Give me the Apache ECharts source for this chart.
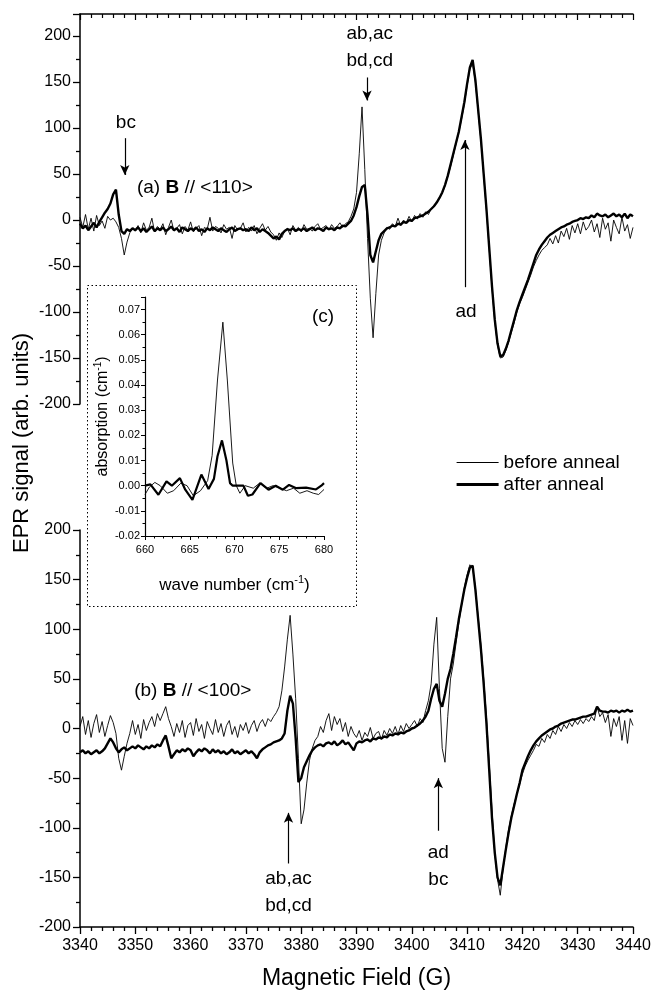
<!DOCTYPE html>
<html>
<head>
<meta charset="utf-8">
<script src="https://cdn.jsdelivr.net/npm/echarts@6/dist/echarts.min.js"></script>
<style>
html,body{margin:0;padding:0;background:#fff;}
#chart{width:655px;height:994px;}
</style>
</head>
<body>
<div id="chart"></div>
<script>
// ---------------- DATA ----------------
// Magnetic field sampling: 3340 G .. 3440 G every 0.5 G (201 samples)
const fieldStart = 3340;
const fieldStep = 0.5;

// (a) B // <110>, before anneal (thin)
const beforeA = [
  3, -8, 6, -10, 2, -12, 5, -6, -1, -9,
  4, 0, 2, -2, -8, -20, -38, -24, -14, -9,
  -12, -6, -14, -3, -11, -8, 2, -13, -7, -10,
  -4, -16, -8, 0, -12, -9, -5, -15, -7, -11,
  -2, -13, -9, -6, -17, -8, -10, 3, -12, -7,
  -9, -14, -5, -10, -8, -20, -6, -11, -9, -3,
  -13, -8, -12, -6, -15, -9, -4, -11, -7, -13,
  -16, -22, -14, -19, -12, -9, -16, -6, -11, -8,
  -13, -5, -10, -9, -12, -7, -4, -10, -8, -6,
  -11, -5, -9, -7, -3, -8, -4, -2, 4, 12,
  30, 72, 123, 55, -20, -85, -128, -80, -38, -22,
  -14, -8, -10, -4, -7, 2, -6, 0, -3, 4,
  -2, 5, 1, 7, 3, 9, 6, 12, 14, 19,
  24, 29, 37, 47, 58, 70, 83, 95, 110, 126,
  146, 164, 170, 150, 118, 86, 48, 10, -32, -74,
  -110, -136, -150, -149, -142, -133, -122, -112, -100, -91,
  -84, -76, -68, -60, -51, -44, -38, -33, -30, -27,
  -20, -26, -17, -25, -12, -18, -9, -21, -6, -14,
  -4, -15, -2, -11, -7, 0, -13, -4, -19, 2,
  -10, -3, -23, 0, -8, -15, 3, -12, -5, -20,
  -8
];
// (a) B // <110>, after anneal (thick)
const afterA = [
  -4, -9, -6, -11, -7, -3, -8, -2, 3, 8,
  12, 18, 28, 33, 6, -12, -15, -10, -12, -9,
  -11, -8, -12, -9, -13, -10, -7, -12, -9, -11,
  -8, -12, -10, -7, -11, -9, -13, -8, -10, -12,
  -9, -11, -8, -12, -10, -13, -9, -11, -8, -10,
  -12, -9, -11, -13, -10, -8, -12, -10, -9, -11,
  -10, -12, -8, -11, -9, -13, -10, -12, -14, -17,
  -20, -18, -21, -15, -12, -10, -11, -9, -12, -10,
  -11, -9, -12, -10, -8, -11, -9, -10, -12, -8,
  -10, -9, -11, -8, -9, -6, -7, -4, -1, 5,
  14, 26, 36, 38, 5, -38, -46, -34, -22, -15,
  -12, -9, -8, -6, -7, -4, -5, -2, -3, 0,
  -1, 2, 3, 4, 5, 7, 9, 12, 15, 19,
  24, 30, 38, 48, 60, 72, 84, 96, 112, 128,
  148, 166, 174, 152, 120, 88, 50, 12, -30, -72,
  -108, -134, -148, -147, -140, -131, -120, -109, -98, -89,
  -81, -73, -65, -56, -47, -38, -32, -27, -23, -19,
  -16, -14, -12, -10, -8, -7, -5, -4, -2, -1,
  0, 2, 1, 3, 2, 5, 3, 7, 5, 4,
  6, 3, 5, 7, 4, 6, 3, 7, 2, 6,
  4
];
// (b) B // <100>, before anneal (thin)
const beforeB = [
  2, 12, -6, 8, -9, 5, 14, -4, 7, -8,
  3, 13, 6, -5, -30, -42, -28, -15, -5, 8,
  -6, 4, -10, 9, -2, 6, 12, 2, 15, 8,
  15, 22, 10, 2, -8, 5, -4, 8, -9, 3,
  6, -7, 10, -3, 4, -10, 7, 0, -6, 9,
  -4, 5, -8, 3, 8, -6, 2, -9, 4, -2,
  6, -5, 3, 8, -3, 5, 9, 2, 10, 7,
  12, 16, 22, 38, 62, 90, 114, 75, 30, -30,
  -96, -82, -55, -32, -20, -12, -8, 2, -4, 8,
  15, -2, 12, 4, 10, -3, 6, -8, 2, -5,
  -9, -2, -12, -4, -8, 1, -10, -5, -3, -11,
  -2, -7, 0, -5, 2, -6, 3, -3, 5, 0,
  4, 8, 2, 10, 6, 18, 28, 45, 85, 112,
  40, -20, -34, 12, 50, 65, 86, 106, 124, 142,
  155, 165, 162, 142, 112, 84, 50, 12, -35, -82,
  -126, -152, -168, -142, -120, -102, -88, -76, -66, -56,
  -46, -38, -32, -27, -22, -16, -18, -10, -14, -6,
  -10, -2, -6, 2, -3, 4, 0, 6, 2, 8,
  4, 9, 5, 10, 7, 12, 8, 22, 12, 16,
  6, 14, -8, 10, 2, 12, -12, 8, -15, 10,
  3
];
// (b) B // <100>, after anneal (thick)
const afterB = [
  -24, -22, -25, -23, -26, -24, -22, -25, -23, -20,
  -15, -10, -14, -20, -24, -21, -19, -22, -20, -18,
  -20, -17, -19, -21, -18, -20, -17, -19, -16, -18,
  -12, -7, -18, -30, -26, -22, -24, -21, -23, -20,
  -22, -28, -24, -21, -23, -20, -22, -25, -21, -24,
  -22, -25, -23, -26, -24, -21, -25, -23, -26, -24,
  -22, -25, -23, -26, -30, -24, -21, -19, -17, -16,
  -14, -13, -12, -10, -5, 18, 33, 25, -10, -54,
  -50, -39, -33, -27, -22, -19, -17, -16, -18, -15,
  -14, -16, -13, -17, -15, -12, -16, -14, -18, -22,
  -15, -13, -14, -12, -11, -13, -10, -11, -9, -10,
  -8, -9, -6, -7, -5, -6, -4, -5, -3, -2,
  0, 1, 3, 5, 8, 12, 18, 30, 40, 45,
  28, 22, 35, 50, 60, 75, 92, 110, 125, 140,
  152, 162, 164, 140, 110, 80, 45, 5, -42, -90,
  -125, -150, -158, -140, -122, -105, -90, -78, -66, -55,
  -42, -35, -28, -22, -17, -13, -10, -7, -5, -3,
  -1, 0, 2, 3, 5, 6, 7, 8, 9, 9,
  10, 11, 12, 12, 13, 14, 15, 22, 18, 17,
  17, 16, 18, 17, 18, 16, 18, 17, 19, 17,
  18
];

// (c) IR absorption inset
const waveBefore = [660, 660.5, 661.1, 661.7, 662.5, 663.2, 664.0, 664.7, 665.4, 666.2, 667.0, 667.5, 668.1, 668.7, 669.2, 669.8, 670.2, 670.6, 671.2, 672.1, 672.8, 673.6, 674.3, 675.1, 675.8, 676.6, 677.3, 678.1, 678.8, 679.4, 680];
const absBefore  = [-0.0035, -0.0005, 0.0013, 0.0, -0.003, -0.002, 0.001, 0.0, -0.004, -0.002, 0.002, 0.012, 0.042, 0.065, 0.042, 0.009, 0.0, -0.003, 0.0, -0.001, 0.001, -0.001, 0.0, -0.001, -0.002, -0.001, -0.003, -0.002, -0.003, -0.0035, -0.0015];
const waveAfter  = [660, 660.6, 661.5, 662.4, 663.0, 663.9, 664.5, 665.3, 666.3, 667.1, 667.7, 668.1, 668.6, 669.1, 669.5, 669.8, 670.4, 671.0, 671.5, 672.0, 672.9, 673.8, 674.6, 675.4, 676.1, 676.9, 678.0, 679.1, 679.7, 680];
const absAfter   = [0.0, 0.0005, -0.0036, 0.0017, 0.0, 0.003, -0.0016, -0.0056, 0.0044, -0.0013, 0.0027, 0.0117, 0.018, 0.010, 0.001, 0.0, 0.0, 0.0, -0.004, -0.0035, 0.001, -0.0016, 0.0, -0.0016, 0.0003, -0.001, -0.0008, -0.0015, 0.0, 0.001];

// tick labels / axis ranges
const fieldTicks = [3340, 3440, 10];
const signalTicks = [-200, 200, 50];
const waveTicks = [660, 680, 5];
const absTicks = [-0.02, 0.075, 0.01];

// annotations (data coordinates)
const annotA = [
  {text: 'bc', field: 3348.3, signal: 106},
  {text: 'ab,ac\nbd,cd', field: 3392.4, signal: 188},
  {text: 'ad', field: 3409.8, signal: -100}
];
const arrowsA = [
  {field: 3348.1, from: 89, to: 49},
  {field: 3391.9, from: 155, to: 130},
  {field: 3409.6, from: -73, to: 87}
];
const annotB = [
  {text: 'ab,ac\nbd,cd', field: 3377.7, signal: -165},
  {text: 'ad\nbc', field: 3404.8, signal: -139}
];
const arrowsB = [
  {field: 3377.7, from: -136, to: -85},
  {field: 3404.8, from: -103, to: -50}
];
const panelLabels = [
  {text: '(a) {bold|B} // <110>', field: 3350.3, signal: 35},
  {text: '(b) {bold|B} // <100>', field: 3349.8, signal: 38}
];
const insetLabel = {text: '(c)', wave: 679.9, abs: 0.0673};
const legendNames = ['before anneal', 'after anneal'];

// ---------------- CHART ----------------
const FONT = '"Liberation Sans", Arial, Helvetica, sans-serif';
const fields = beforeA.map((_, i) => fieldStart + i * fieldStep);
const pairs = (xs, ys) => xs.map((x, i) => [x, ys[i]]);

function lineSeries(name, idx, data, width, z) {
  return {
    type: 'line', name: name, xAxisIndex: idx, yAxisIndex: idx, data: data,
    showSymbol: false, symbol: 'none', smooth: false, animation: false,
    lineStyle: {color: '#000', width: width}, itemStyle: {color: '#000'},
    emphasis: {disabled: true}, z: z
  };
}
function arrowLines(arrows) {
  return {
    silent: true, animation: false, symbol: ['none', 'arrow'], symbolSize: [7, 10],
    lineStyle: {color: '#000', width: 1.2, type: 'solid'},
    itemStyle: {color: '#000'},
    label: {show: false}, emphasis: {disabled: true},
    data: arrows.map(a => [{coord: [a.field, a.from]}, {coord: [a.field, a.to]}])
  };
}
const richBold = {bold: {fontWeight: 'bold', fontSize: 19, fontFamily: FONT, color: '#000'}};
function textMarks(items, extraItems) {
  const data = items.map(t => ({name: t.text, coord: [t.field, t.signal]}));
  return {
    silent: true, animation: false, symbol: 'circle', symbolSize: 0,
    itemStyle: {color: 'rgba(0,0,0,0)'},
    label: {show: true, position: 'inside', color: '#000', fontSize: 19, fontFamily: FONT,
            lineHeight: 27, formatter: p => p.name, rich: richBold},
    data: data.concat(extraItems || [])
  };
}

const tickLabelStyle = {color: '#000', fontSize: 16, fontFamily: FONT};
function signalAxis(gridIndex, max) {
  return {
    type: 'value', gridIndex: gridIndex, min: signalTicks[0], max: max, interval: signalTicks[2],
    axisLine: {show: true, onZero: false, lineStyle: {color: '#000', width: 1.5}},
    axisTick: {show: true, inside: false, length: 7, lineStyle: {color: '#000', width: 1.3}},
    minorTick: {show: true, splitNumber: 2, length: 4, lineStyle: {color: '#000', width: 1.3}},
    axisLabel: Object.assign({margin: 9, formatter: v => (v % 50 === 0 && v <= 200) ? String(v) : ''}, tickLabelStyle),
    splitLine: {show: false}, minorSplitLine: {show: false}
  };
}

const option = {
  backgroundColor: '#fff',
  animation: false,
  grid: [
    {left: 80, right: 22, top: 14, height: 390},
    {left: 80, right: 22, top: 530, bottom: 67},
    {left: 145, top: 297, width: 179, height: 239}
  ],
  xAxis: [
    {
      type: 'value', gridIndex: 0, position: 'top', min: fieldTicks[0], max: fieldTicks[1], interval: fieldTicks[2],
      axisLine: {show: true, onZero: false, lineStyle: {color: '#000', width: 1.5}},
      axisTick: {show: true, inside: true, length: 6, lineStyle: {color: '#000', width: 1.2}},
      minorTick: {show: true, splitNumber: 5, length: 4, lineStyle: {color: '#000', width: 1.2}},
      axisLabel: {show: false}, splitLine: {show: false}
    },
    {
      type: 'value', gridIndex: 1, position: 'bottom', min: fieldTicks[0], max: fieldTicks[1], interval: fieldTicks[2],
      axisLine: {show: true, onZero: false, lineStyle: {color: '#000', width: 1.5}},
      axisTick: {show: true, inside: false, length: 7, lineStyle: {color: '#000', width: 1.3}},
      minorTick: {show: true, splitNumber: 5, length: 4, lineStyle: {color: '#000', width: 1.3}},
      axisLabel: Object.assign({margin: 11, formatter: v => String(v)}, tickLabelStyle),
      splitLine: {show: false},
      name: 'Magnetic Field (G)', nameLocation: 'middle', nameGap: 40,
      nameTextStyle: {color: '#000', fontSize: 23, fontFamily: FONT}
    },
    {
      type: 'value', gridIndex: 2, min: waveTicks[0], max: waveTicks[1], interval: waveTicks[2],
      axisLine: {show: true, onZero: false, lineStyle: {color: '#000', width: 1.2}},
      axisTick: {show: true, length: 4, lineStyle: {color: '#000'}},
      minorTick: {show: true, splitNumber: 5, length: 2.5, lineStyle: {color: '#000'}},
      axisLabel: {color: '#000', fontSize: 11, fontFamily: FONT, margin: 8, formatter: v => String(v)},
      splitLine: {show: false},
      name: '{a|wave number (cm}{s|-1}{a|)}', nameLocation: 'middle', nameGap: 38,
      nameTextStyle: {rich: {
        a: {fontSize: 17, fontFamily: FONT, color: '#000', lineHeight: 22},
        s: {fontSize: 11, fontFamily: FONT, color: '#000', verticalAlign: 'top', lineHeight: 22}
      }}
    }
  ],
  yAxis: [
    signalAxis(0, 224),
    signalAxis(1, signalTicks[1]),
    {
      type: 'value', gridIndex: 2, min: absTicks[0], max: absTicks[1], interval: absTicks[2],
      axisLine: {show: true, onZero: false, lineStyle: {color: '#000', width: 1.2}},
      axisTick: {show: true, length: 4, lineStyle: {color: '#000'}},
      minorTick: {show: true, splitNumber: 2, length: 2.5, lineStyle: {color: '#000'}},
      axisLabel: {color: '#000', fontSize: 11, fontFamily: FONT, margin: 5,
        formatter: v => Math.abs(v * 100 - Math.round(v * 100)) < 1e-6 ? v.toFixed(2) : ''},
      splitLine: {show: false},
      name: '{a|absorption (cm}{s|-1}{a|)}', nameLocation: 'middle', nameGap: 30, nameRotate: 90,
      nameTextStyle: {rich: {
        a: {fontSize: 16, fontFamily: FONT, color: '#000', lineHeight: 20},
        s: {fontSize: 10, fontFamily: FONT, color: '#000', verticalAlign: 'top', lineHeight: 20}
      }}
    }
  ],
  legend: {
    show: true, orient: 'vertical', left: 450, top: 448, itemWidth: 42, itemHeight: 14, itemGap: 3,
    selectedMode: false,
    itemStyle: {color: 'rgba(0,0,0,0)', borderWidth: 0, opacity: 0},
    data: [
      {name: legendNames[0], lineStyle: {width: 1, color: '#000'}},
      {name: legendNames[1], lineStyle: {width: 3.2, color: '#000'}}
    ],
    textStyle: {color: '#000', fontSize: 19, fontFamily: FONT}
  },
  graphic: [
    {type: 'rect', silent: true, z: 0,
     shape: {x: 87.5, y: 285.5, width: 269, height: 321},
     style: {fill: 'rgba(0,0,0,0)', stroke: '#000', lineWidth: 1, lineDash: [1.5, 2.5]}},
    {type: 'text', silent: true, x: 22, y: 443, rotation: Math.PI / 2,
     style: {text: 'EPR signal (arb. units)', fontSize: 22, fontFamily: FONT, fill: '#000',
             align: 'center', verticalAlign: 'middle'}}
  ],
  series: [
    Object.assign(lineSeries(legendNames[0], 0, pairs(fields, beforeA), 0.9, 2), {
      markLine: arrowLines(arrowsA),
      markPoint: textMarks(annotA, [{name: panelLabels[0].text, coord: [panelLabels[0].field, panelLabels[0].signal],
                                     label: {position: 'right', distance: 0}}])
    }),
    lineSeries(legendNames[1], 0, pairs(fields, afterA), 2.4, 3),
    Object.assign(lineSeries(legendNames[0], 1, pairs(fields, beforeB), 0.9, 2), {
      markLine: arrowLines(arrowsB),
      markPoint: textMarks(annotB, [{name: panelLabels[1].text, coord: [panelLabels[1].field, panelLabels[1].signal],
                                     label: {position: 'right', distance: 0}}])
    }),
    lineSeries(legendNames[1], 1, pairs(fields, afterB), 2.4, 3),
    lineSeries(legendNames[0], 2, pairs(waveBefore, absBefore), 0.9, 2),
    Object.assign(lineSeries(legendNames[1], 2, pairs(waveAfter, absAfter), 2.2, 3), {
      markPoint: textMarks([], [{name: insetLabel.text, coord: [insetLabel.wave, insetLabel.abs]}])
    })
  ]
};

const chart = echarts.init(document.getElementById('chart'), null, {renderer: 'canvas'});
chart.setOption(option);
</script>
</body>
</html>
